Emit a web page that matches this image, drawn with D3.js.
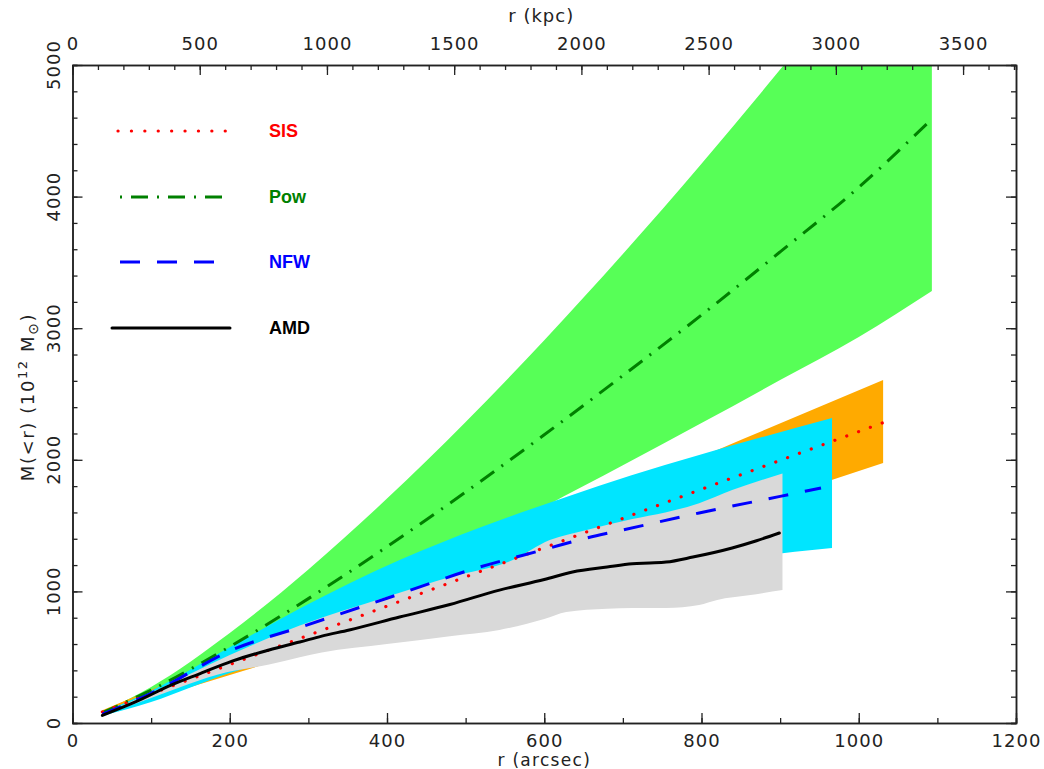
<!DOCTYPE html>
<html>
<head>
<meta charset="utf-8">
<script src="https://cdn.jsdelivr.net/npm/d3@7"></script>
<style>
  html, body { margin: 0; padding: 0; background: #fff; }
  svg { display: block; }
  .tick text { font-family: "DejaVu Sans", sans-serif; font-size: 18px; fill: #222; letter-spacing: 1px; }
</style>
</head>
<body>
<svg id="chart" width="1044" height="769"></svg>
<script>
// ---------------- data (r in arcsec, M in 10^12 Msun) ----------------
const powLine  = [[38,78],[100,250],[200,580],[300,945],[400,1340],[500,1755],[600,2190],[700,2640],[800,3100],[900,3580],[1000,4070],[1093,4590]];
const powUpper = [[38,85],[100,274],[200,684],[300,1167],[400,1705],[500,2287],[600,2909],[700,3564],[800,4250],[900,4965],[1000,5700],[1093,6400]];
const powLower = [[38,72],[100,190],[200,435],[300,705],[400,995],[500,1305],[600,1642],[700,1959],[800,2279],[900,2606],[1000,2934],[1093,3283]];

const sisLine  = [[38,84],[200,444],[400,888],[600,1332],[800,1776],[1031,2282]];
const sisUpper = [[38,97],[200,506],[400,1012],[600,1518],[826,2090],[1031,2606]];
const sisLower = [[38,72],[196,357],[400,740],[600,1122],[800,1520],[1031,1976]];

const nfwLine  = [[38,68],[100,225],[203,555],[296,740],[400,948],[518,1185],[600,1318],[654,1406],[700,1467],[797,1596],[900,1722],[952,1786]];
const nfwUpper = [[38,80],[100,245],[200,575],[289,870],[416,1239],[520,1490],[628,1717],[710,1880],[797,2036],[966,2318]];
const nfwLower = [[38,55],[100,160],[200,380],[300,540],[400,690],[500,840],[600,960],[700,1070],[800,1180],[903,1290],[966,1330]];

const amdLine  = [[38,58],[80,160],[126,289],[160,370],[203,470],[250,555],[289,615],[317,660],[352,707],[416,805],[480,900],[543,1010],[600,1090],[636,1147],[680,1185],[712,1210],[734,1216],[755,1223],[789,1261],[839,1330],[870,1385],[899,1444]];
const amdUpper = [[38,70],[100,230],[200,517],[289,740],[400,960],[480,1110],[560,1239],[607,1390],[654,1467],[712,1550],[754,1600],[797,1670],[839,1770],[903,1895]];
const amdLower = [[38,55],[100,190],[196,385],[250,445],[289,500],[317,535],[400,600],[480,660],[543,707],[600,790],[628,843],[680,868],[712,874],[755,874],[797,897],[820,935],[860,970],[903,1010]];

const xTicks   = [0,200,400,600,800,1000,1200];
const kpcTicks = [0,500,1000,1500,2000,2500,3000,3500];
const yTicks   = [0,1000,2000,3000,4000,5000];
const legendNames = ["SIS","Pow","NFW","AMD"];

// ---------------- layout ----------------
const L = 72.5, R = 1016, T = 65, B = 723;
const rMax = 1200, kpcMax = 3708, mMax = 5000;

const svg = d3.select("#chart");
const x = d3.scaleLinear().domain([0, rMax]).range([L, R]);
const xk = d3.scaleLinear().domain([0, kpcMax]).range([L, R]);
const y = d3.scaleLinear().domain([0, mMax]).range([B, T]);
const fmt = d3.format("d");

svg.append("defs").append("clipPath").attr("id","clip")
  .append("rect").attr("x", L).attr("y", T).attr("width", R-L).attr("height", B-T);

const line = d3.line().x(d => x(d[0])).y(d => y(d[1])).curve(d3.curveMonotoneX);
function bandPath(up, lo) {
  const a = line(up);
  const b = line(lo.slice().reverse());
  return a + "L" + b.substring(1) + "Z";
}

const plot = svg.append("g").attr("clip-path","url(#clip)");
plot.append("path").attr("d", bandPath(powUpper, powLower)).attr("fill", "#57ff57");
plot.append("path").attr("d", bandPath(sisUpper, sisLower)).attr("fill", "#ffaa00");
plot.append("path").attr("d", bandPath(nfwUpper, nfwLower)).attr("fill", "#00e5ff");
plot.append("path").attr("d", bandPath(amdUpper, amdLower)).attr("fill", "#d9d9d9");

const styles = {
  SIS: {color:"#ff0000", dash:"0.1,12.5", cap:"round", w:3.2},
  Pow: {color:"#008000", dash:"17,9,2,9", cap:"butt", w:3},
  NFW: {color:"#0000ff", dash:"20,17", cap:"butt", w:3},
  AMD: {color:"#000000", dash:null, cap:"round", w:3}
};
function drawLine(data, s) {
  const p = plot.append("path").attr("d", line(data)).attr("fill","none")
    .attr("stroke", s.color).attr("stroke-width", s.w).attr("stroke-linecap", s.cap);
  if (s.dash) p.attr("stroke-dasharray", s.dash);
}
drawLine(powLine, styles.Pow);
drawLine(sisLine, styles.SIS);
drawLine(nfwLine, styles.NFW);
drawLine(amdLine, styles.AMD);

// ---------------- axes ----------------
const axisColor = "#222";
function styleAxis(g) {
  g.select(".domain").attr("stroke", axisColor).attr("stroke-width", 1.5);
  g.selectAll(".tick line").attr("stroke", axisColor).attr("stroke-width", 1.3);
}
// bottom
svg.append("g").attr("transform", `translate(0,${B})`)
  .call(d3.axisBottom(x).tickValues(d3.range(0, rMax+1, 100)).tickSize(-5).tickFormat("")).call(styleAxis);
svg.append("g").attr("transform", `translate(0,${B})`)
  .call(d3.axisBottom(x).tickValues(xTicks).tickSize(-10).tickPadding(11).tickSizeOuter(0).tickFormat(fmt)).call(styleAxis);
// top
svg.append("g").attr("transform", `translate(0,${T})`)
  .call(d3.axisTop(xk).tickValues(d3.range(0, kpcMax, 100)).tickSize(-5).tickFormat("")).call(styleAxis);
svg.append("g").attr("transform", `translate(0,${T})`)
  .call(d3.axisTop(xk).tickValues(kpcTicks).tickSize(-10).tickPadding(15).tickSizeOuter(0).tickFormat(fmt)).call(styleAxis);
// left
svg.append("g").attr("transform", `translate(${L},0)`)
  .call(d3.axisLeft(y).tickValues(d3.range(0, mMax+1, 200)).tickSize(-5).tickFormat("")).call(styleAxis);
svg.append("g").attr("transform", `translate(${L},0)`)
  .call(d3.axisLeft(y).tickValues(yTicks).tickSize(-10).tickFormat("").tickSizeOuter(0)).call(styleAxis);
// right
svg.append("g").attr("transform", `translate(${R},0)`)
  .call(d3.axisRight(y).tickValues(d3.range(0, mMax+1, 200)).tickSize(-5).tickFormat("")).call(styleAxis);
svg.append("g").attr("transform", `translate(${R},0)`)
  .call(d3.axisRight(y).tickValues(yTicks).tickSize(-10).tickFormat("").tickSizeOuter(0)).call(styleAxis);

// rotated y tick labels
const ylab = svg.append("g").attr("class","tick");
yTicks.forEach(v => {
  ylab.append("text").attr("x", 60).attr("y", y(v))
    .attr("transform", `rotate(-90,60,${y(v)})`).attr("text-anchor","middle").text(fmt(v));
});

// axis titles
const font = "DejaVu Sans, sans-serif";
svg.append("text").attr("x", (L+R)/2).attr("y", 766).attr("text-anchor","middle")
  .attr("font-family", font).attr("font-size", 17).attr("fill", "#222").attr("letter-spacing", 1.3)
  .text("r (arcsec)");
svg.append("text").attr("x", (L+R)/2 - 3).attr("y", 22).attr("text-anchor","middle")
  .attr("font-family", font).attr("font-size", 18).attr("fill", "#222").attr("letter-spacing", 1)
  .text("r (kpc)");
const yt = svg.append("text").attr("transform", "translate(34,397) rotate(-90)").attr("text-anchor","middle")
  .attr("font-family", font).attr("font-size", 18).attr("fill", "#222").attr("letter-spacing", 1.6);
yt.append("tspan").text("M(<r) (10");
yt.append("tspan").attr("dy", -7).attr("font-size", 13).text("12");
yt.append("tspan").attr("dy", 7).text(" M");
yt.append("tspan").attr("dy", 4).attr("font-size", 14).text("⊙");
yt.append("tspan").attr("dy", -4).text(")");

// ---------------- legend ----------------
const legY = [131, 197, 262, 328];
const legX0 = [118, 120, 120, 112];
const legX1 = [226, 228, 214, 230];
legendNames.forEach((n, i) => {
  const s = styles[n];
  const p = svg.append("line").attr("x1", legX0[i]).attr("x2", legX1[i]).attr("y1", legY[i]).attr("y2", legY[i])
    .attr("stroke", s.color).attr("stroke-width", s.w).attr("stroke-linecap", s.cap);
  if (s.dash) p.attr("stroke-dasharray", n === "Pow" ? "2,9,17,9" : (n==="SIS" ? "0.1,13.3" : s.dash));
  svg.append("text").attr("x", 269).attr("y", legY[i] + 6)
    .attr("font-family", "Liberation Sans, Arial, sans-serif").attr("font-weight", "bold")
    .attr("font-size", 18).attr("fill", s.color).text(n);
});
</script>
</body>
</html>
